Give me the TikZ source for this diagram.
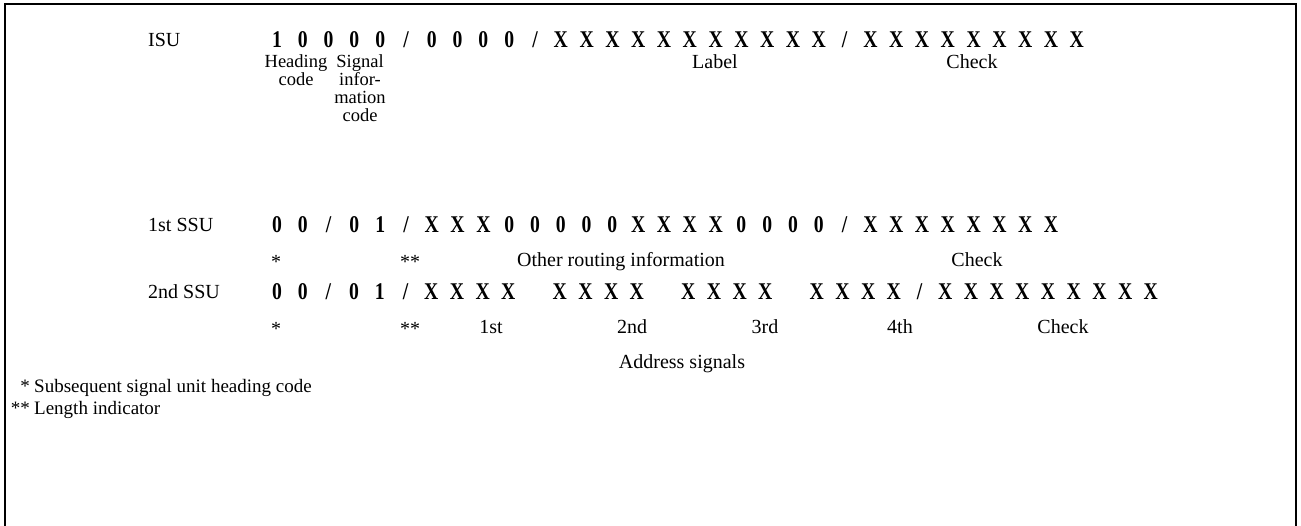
\documentclass[tikz,border=0pt]{standalone}
\usepackage{fontspec}
\setmainfont{Liberation Serif}
\newfontfamily\bitfont{Liberation Serif}[FakeStretch=0.82]
\begin{document}
\begin{tikzpicture}[x=1pt,y=-1pt,
  lbl/.style={font=\fontsize{20}{17}\selectfont, inner sep=0pt, anchor=base},
  fnote/.style={font=\fontsize{19}{17}\selectfont, inner sep=0pt},
  mlbl/.style={font=\fontsize{18.5}{18}\selectfont, inner sep=0pt, align=center, anchor=north},
  rowlbl/.style={font=\fontsize{20}{17}\selectfont, inner sep=0pt, anchor=base west},
  bit/.style={font=\bitfont\fontsize{24}{24}\selectfont\bfseries, inner sep=0pt, anchor=base},
  frame/.style={line width=2.5pt}]
\useasboundingbox (0,0) rectangle (1301,526);
\draw[frame] (5,526) -- (5,4) -- (1296,4) -- (1296,526);
% ISU row
\node[rowlbl] (isu) at (148,47) {ISU};
\foreach \t [count=\i] in {1,0,0,0,0,/,0,0,0,0,/,X,X,X,X,X,X,X,X,X,X,X,/,X,X,X,X,X,X,X,X,X}
  \node[bit] (isu-\i) at ({277+(\i-1)*25.8},48) {\t};
\node[mlbl] (head) at (296,54) {Heading\\code};
\node[mlbl] (sig) at (360,54) {Signal\\infor-\\mation\\code};
\node[lbl] (label) at (715,69) {Label};
\node[lbl] (check1) at (972,69) {Check};
% 1st SSU row
\node[rowlbl] (ssu1) at (148,232) {1st SSU};
\foreach \t [count=\i] in {0,0,/,0,1,/,X,X,X,0,0,0,0,0,X,X,X,X,0,0,0,0,/,X,X,X,X,X,X,X,X}
  \node[bit] (ssua-\i) at ({277+(\i-1)*25.8},233) {\t};
\node[lbl] (s1a) at (276,269) {*};
\node[lbl] (s1b) at (410,269) {**};
\node[lbl] (other) at (621,267) {Other routing information};
\node[lbl] (check2) at (977,267) {Check};
% 2nd SSU row
\node[rowlbl] (ssu2) at (148,299) {2nd SSU};
\foreach \t [count=\i] in {0,0,/,0,1,/,X,X,X,X,{},X,X,X,X,{},X,X,X,X,{},X,X,X,X,/,X,X,X,X,X,X,X,X,X}
  \node[bit] (ssub-\i) at ({277+(\i-1)*25.7},300) {\t};
\node[lbl] (s2a) at (276,336) {*};
\node[lbl] (s2b) at (410,336) {**};
\node[lbl] (a1) at (491,334) {1st};
\node[lbl] (a2) at (632,334) {2nd};
\node[lbl] (a3) at (765,334) {3rd};
\node[lbl] (a4) at (900,334) {4th};
\node[lbl] (check3) at (1063,334) {Check};
\node[lbl] (addr) at (682,369) {Address signals};
% footnotes
\node[fnote, anchor=base east] (f1s) at (30,392) {*};
\node[fnote, anchor=base west] (f1) at (34,392) {Subsequent signal unit heading code};
\node[fnote, anchor=base east] (f2s) at (30,414) {**};
\node[fnote, anchor=base west] (f2) at (34,414) {Length indicator};
\end{tikzpicture}
\end{document}
